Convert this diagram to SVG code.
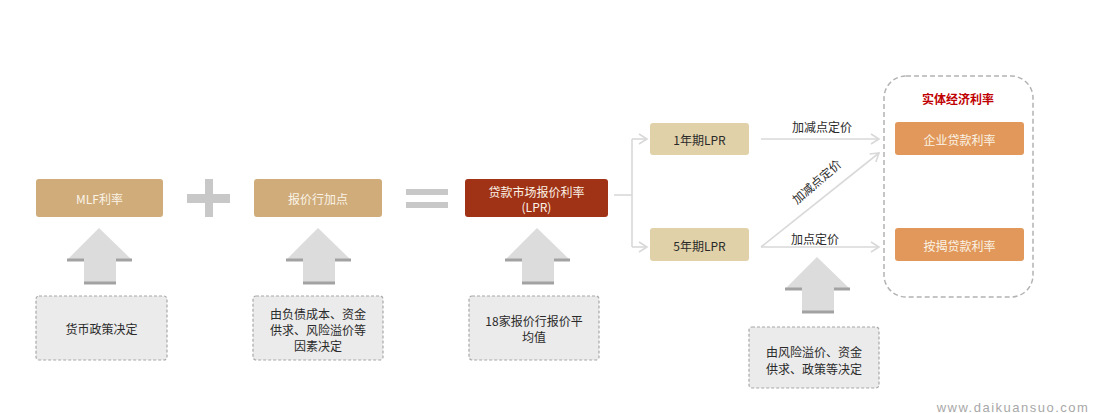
<svg xmlns="http://www.w3.org/2000/svg" width="1094" height="413" viewBox="0 0 1094 413">
<defs>
<style>
text{font-family:"Noto Sans CJK SC","Noto Sans",sans-serif;font-size:12px;text-anchor:middle;dominant-baseline:central}
.tan{fill:#cfac7a}
.lt{fill:#fbf3e6}
.dk{fill:#2a2a2a}
.dash{fill:#ebebeb;stroke:#a8a8a8;stroke-width:1.2;stroke-dasharray:3 2}
.conn{fill:none;stroke:#d9d9d9;stroke-width:1.6}
.big{fill:#dcdcdc}
.shad{stroke:#a2a2a2;stroke-width:3}
.op{fill:#c8c8c8}
</style>
<marker id="chev" markerWidth="12" markerHeight="12" refX="9" refY="6" orient="auto" markerUnits="userSpaceOnUse">
<path d="M1,1 L9,6 L1,11" fill="none" stroke="#d9d9d9" stroke-width="1.6"/>
</marker>
<g id="uparrow">
<polygon class="big" points="0,0 33,32 17,32 17,56 -15,56 -15,32 -32,32"/>
<line class="shad" x1="-32" y1="32" x2="-15" y2="32"/>
<line class="shad" x1="17" y1="32" x2="33" y2="32"/>
<line class="shad" x1="-15" y1="55" x2="17" y2="55"/>
</g>
</defs>
<rect width="1094" height="413" fill="#fff"/>

<g id="ops">
<rect class="op" x="187" y="194" width="43" height="9"/>
<rect class="op" x="205" y="179" width="8" height="38"/>
<rect class="op" x="406" y="189" width="42" height="6"/>
<rect class="op" x="406" y="202" width="42" height="6"/>
</g>

<g id="connectors">
<polyline class="conn" points="614,195 632,195"/>
<polyline class="conn" points="632,139 632,247"/>
<line class="conn" x1="632" y1="139" x2="647" y2="139" marker-end="url(#chev)"/>
<line class="conn" x1="632" y1="247" x2="647" y2="247" marker-end="url(#chev)"/>
<line class="conn" x1="761" y1="139" x2="879" y2="139" marker-end="url(#chev)"/>
<line class="conn" x1="761" y1="247" x2="879" y2="247" marker-end="url(#chev)"/>
<line class="conn" x1="761" y1="247" x2="879" y2="153" marker-end="url(#chev)"/>
<text class="dk" x="822" y="126">加减点定价</text>
<text class="dk" x="815" y="238">加点定价</text>
<text class="dk" x="0" y="0" transform="translate(816,181) rotate(-41)">加减点定价</text>
<use href="#uparrow" x="99" y="228"/>
<use href="#uparrow" x="318" y="228"/>
<use href="#uparrow" x="537" y="228"/>
<use href="#uparrow" x="817" y="257"/>
</g>

<g id="mlf">
<rect class="tan" x="36" y="179" width="127" height="38" rx="3"/>
<text class="lt" x="99.5" y="198">MLF利率</text>
</g>
<g id="markup">
<rect class="tan" x="254" y="179" width="128" height="38" rx="3"/>
<text class="lt" x="318" y="198">报价行加点</text>
</g>
<g id="lpr">
<rect x="465" y="179" width="143" height="38" rx="3" fill="#a03216"/>
<text class="lt" x="536.5" y="191">贷款市场报价利率</text>
<text class="lt" x="536.5" y="206">(LPR)</text>
</g>

<g id="note1">
<rect class="dash" x="36" y="296" width="131" height="64" rx="3"/>
<text class="dk" x="101.5" y="328">货币政策决定</text>
</g>
<g id="note2">
<rect class="dash" x="253" y="296" width="130" height="64" rx="3"/>
<text class="dk" x="318" y="313">由负债成本、资金</text>
<text class="dk" x="318" y="329">供求、风险溢价等</text>
<text class="dk" x="318" y="345">因素决定</text>
</g>
<g id="note3">
<rect class="dash" x="469" y="296" width="130" height="64" rx="3"/>
<text class="dk" x="534" y="320">18家报价行报价平</text>
<text class="dk" x="534" y="336">均值</text>
</g>
<g id="note4">
<rect class="dash" x="749" y="327" width="130" height="61" rx="3"/>
<text class="dk" x="814" y="351">由风险溢价、资金</text>
<text class="dk" x="814" y="368">供求、政策等决定</text>
</g>

<g id="lpr1">
<rect x="650" y="123" width="99" height="32" rx="3" fill="#e0d1a8"/>
<text class="dk" x="699.5" y="139">1年期LPR</text>
</g>
<g id="lpr5">
<rect x="650" y="228" width="99" height="33" rx="3" fill="#e0d1a8"/>
<text class="dk" x="699.5" y="245">5年期LPR</text>
</g>

<g id="real">
<rect x="884" y="76" width="149" height="221" rx="22" fill="none" stroke="#b3b3b3" stroke-width="1.5" stroke-dasharray="5 3"/>
<text x="958" y="98" fill="#c00000" style="font-weight:bold">实体经济利率</text>
</g>
<g id="corp">
<rect x="895" y="122" width="129" height="33" rx="3" fill="#e1985a"/>
<text class="lt" x="959.5" y="139">企业贷款利率</text>
</g>
<g id="mort">
<rect x="895" y="228" width="129" height="33" rx="3" fill="#e1985a"/>
<text class="lt" x="959.5" y="245">按揭贷款利率</text>
</g>

<text x="1013" y="407" fill="#a8a8a8" style="font-family:'Liberation Sans',sans-serif;font-size:13px;letter-spacing:1.5px">www.daikuansuo.com</text>
</svg>
